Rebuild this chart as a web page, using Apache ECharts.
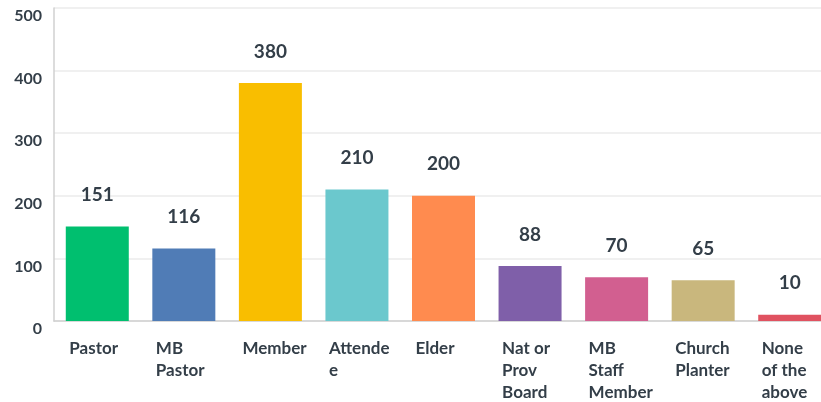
<!DOCTYPE html>
<html>
<head>
<meta charset="utf-8">
<script src="https://cdn.jsdelivr.net/npm/echarts@6/dist/echarts.min.js"></script>
<style>
  html, body { margin: 0; padding: 0; background: #fff; }
  #chart { width: 821px; height: 402px; }
</style>
</head>
<body>
<div id="chart"></div>
<script>
  // answer options and how many picked each one
  const categories = ['Pastor', 'MB Pastor', 'Member', 'Attendee', 'Elder',
    'Nat or Prov Board', 'MB Staff Member', 'Church Planter', 'None of the above'];
  // tick labels as they wrap in the original
  const tickLabels = ['Pastor', 'MB\nPastor', 'Member', 'Attende\ne', 'Elder',
    'Nat or\nProv\nBoard', 'MB\nStaff\nMember', 'Church\nPlanter', 'None\nof the\nabove'];
  const counts = [151, 116, 380, 210, 200, 88, 70, 65, 10];
  const barColors = ['#00bf6f', '#507cb6', '#f9be00', '#6bc8cd', '#ff8b4f',
    '#7f5fa9', '#d25f90', '#c9b77d', '#e05260'];
  const yTicks = [0, 100, 200, 300, 400, 500];

  const textColor = '#333e48';
  const font = 'Lato, sans-serif';

  let chart = echarts.init(document.getElementById('chart'));
  chart.setOption({
    animation: false,
    grid: { left: 54, top: 8, right: -12, bottom: 81, outerBoundsMode: 'none', containLabel: false },
    xAxis: {
      type: 'category',
      data: categories,
      axisLine: { lineStyle: { color: '#d0d0d0', width: 1.5 } },
      axisTick: { show: false },
      axisLabel: {
        interval: 0,
        formatter: (v, i) => tickLabels[i],
        color: textColor,
        fontFamily: font,
        fontWeight: 'bold',
        fontSize: 17,
        lineHeight: 22,
        align: 'left',
        margin: 17,
        padding: [0, 0, 0, -28]
      }
    },
    yAxis: {
      type: 'value',
      min: yTicks[0],
      max: yTicks[yTicks.length - 1],
      interval: 100,
      axisLine: { show: true, lineStyle: { color: '#d0d0d0', width: 1.5 } },
      axisTick: { show: false },
      splitLine: { lineStyle: { color: '#ebebeb', width: 1.5 } },
      axisLabel: {
        color: textColor,
        fontFamily: font,
        fontWeight: 'bold',
        fontSize: 16,
        lineHeight: 16,
        verticalAlign: 'top',
        margin: 12
      }
    },
    series: [{
      type: 'bar',
      barWidth: 63,
      data: counts.map((v, i) => ({ value: v, itemStyle: { color: barColors[i] } })),
      label: {
        show: true,
        position: 'top',
        distance: 22,
        color: textColor,
        fontFamily: font,
        fontWeight: 'bold',
        fontSize: 19
      }
    }]
  });
</script>
</body>
</html>
